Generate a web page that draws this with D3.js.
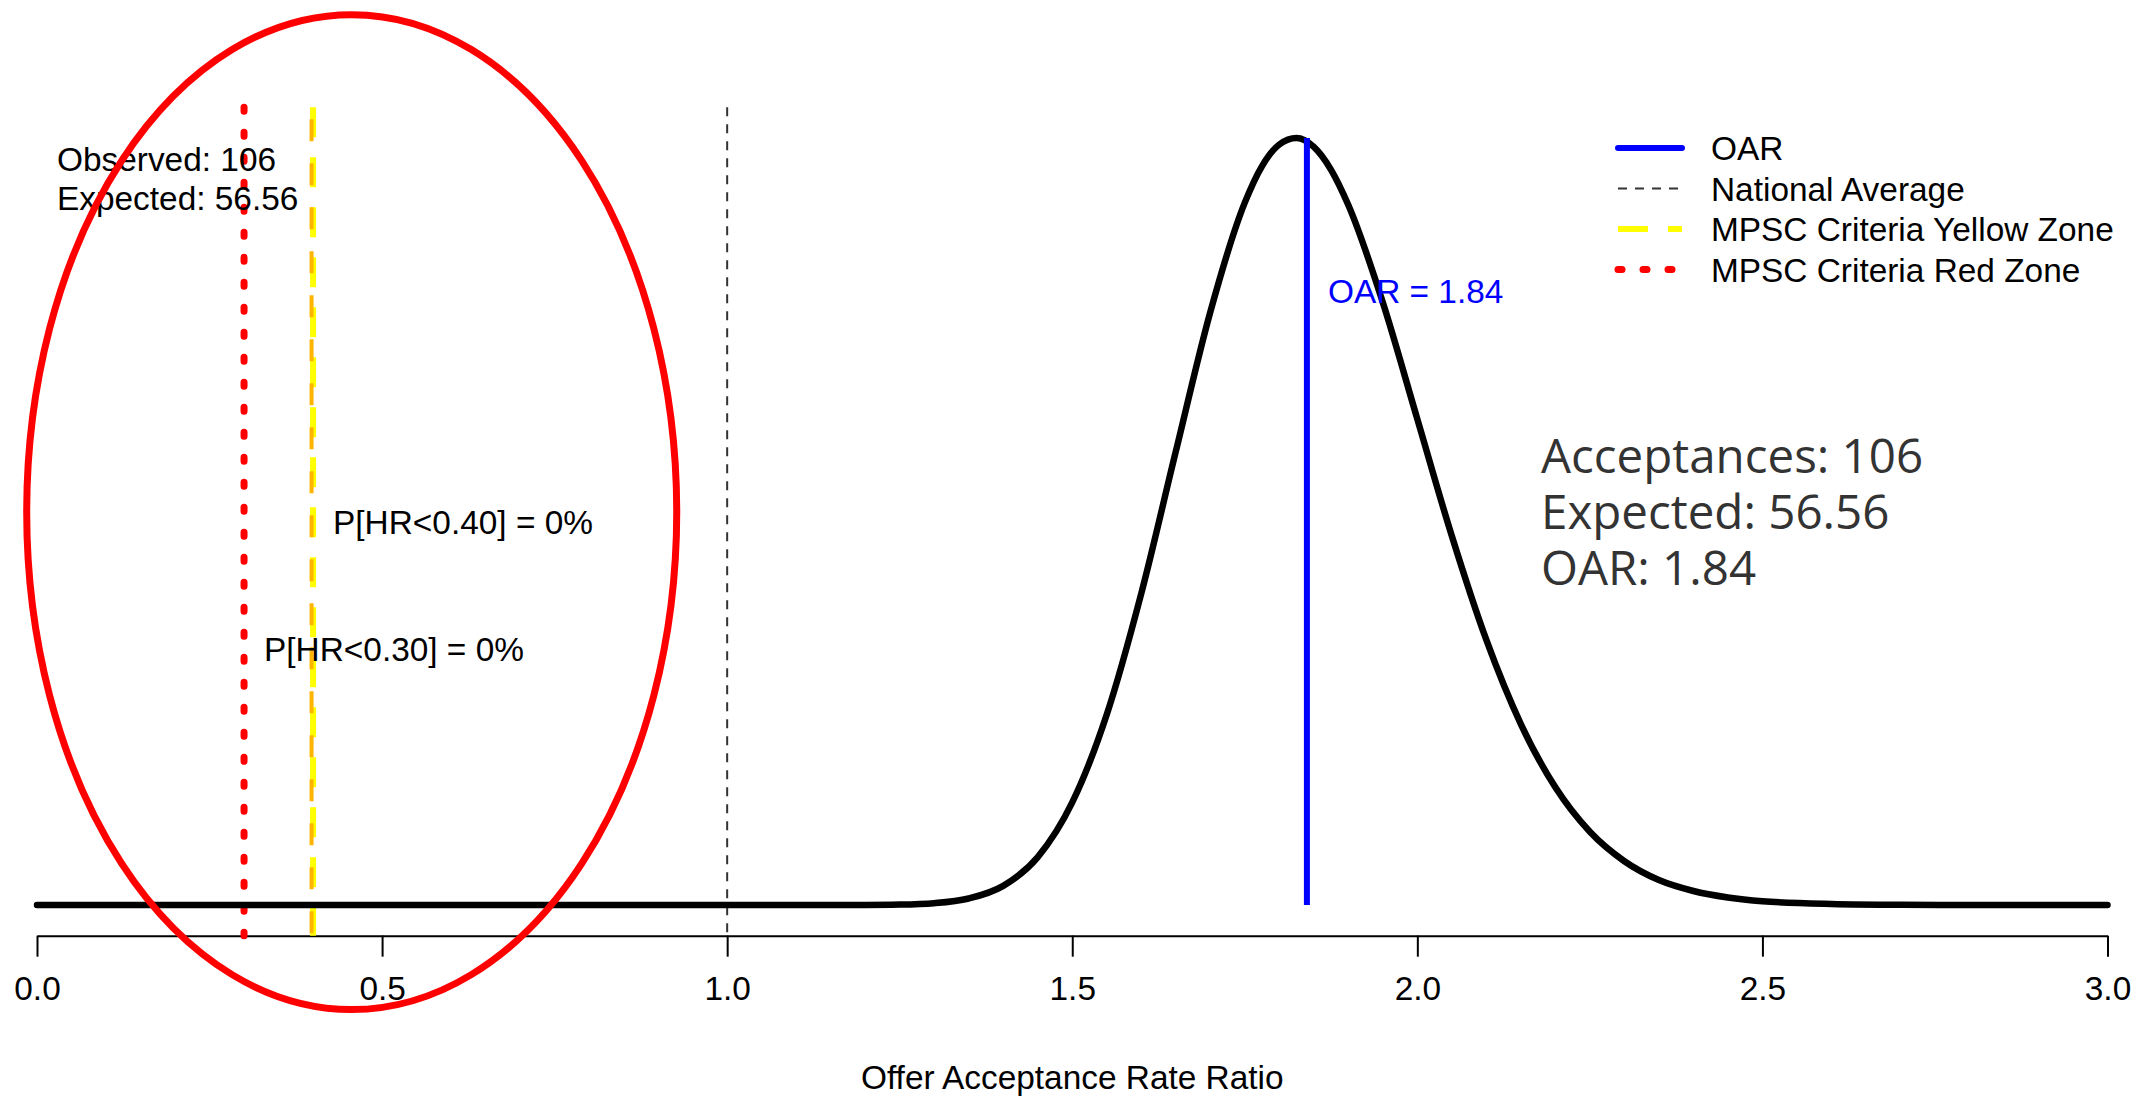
<!DOCTYPE html>
<html>
<head>
<meta charset="utf-8">
<script src="https://cdn.jsdelivr.net/npm/d3@7"></script>
<style>
  html, body { margin: 0; padding: 0; background: #ffffff; }
  svg { display: block; }
</style>
</head>
<body>
<svg id="chart" width="2142" height="1096"></svg>
<script>
// ---------------- data ----------------
const curveX = [0.0, 1.0, 1.1, 1.2, 1.25, 1.3, 1.35, 1.4, 1.45, 1.5, 1.55, 1.6, 1.65, 1.7, 1.75, 1.775, 1.8, 1.825, 1.85, 1.875, 1.9, 1.95, 2.0, 2.05, 2.1, 2.15, 2.2, 2.25, 2.3, 2.35, 2.4, 2.45, 2.5, 2.6, 2.7, 2.8, 3.0];
const curveDensity = [0.0, 0.0, 0.0, 0.0002, 0.0012, 0.0053, 0.019, 0.056, 0.140, 0.300, 0.557, 0.911, 1.326, 1.734, 2.054, 2.161, 2.224, 2.243, 2.217, 2.150, 2.047, 1.762, 1.421, 1.079, 0.775, 0.529, 0.344, 0.214, 0.128, 0.073, 0.041, 0.022, 0.011, 0.003, 0.0006, 0.0001, 0.0];

const xTicks = [0.0, 0.5, 1.0, 1.5, 2.0, 2.5, 3.0];
const xAxisTitle = "Offer Acceptance Rate Ratio";

const oarValue = 1.84;
const refNames = ["National Average", "MPSC Criteria Yellow Zone", "MPSC Criteria Red Zone"];
const refValues = [1.0, 0.40, 0.30];

const legendLabels = ["OAR", "National Average", "MPSC Criteria Yellow Zone", "MPSC Criteria Red Zone"];
const probLabels = ["P[HR<0.40] = 0%", "P[HR<0.30] = 0%"];
const probThresholds = [0.40, 0.30];
const probHeightFraction = [1 / 2, 1 / 3];

const observedLines = ["Observed: 106", "Expected: 56.56"];
const summaryLines = ["Acceptances: 106", "Expected: 56.56", "OAR: 1.84"];
const oarLabel = "OAR = 1.84";

// highlight ellipse bounds in data units [xmin, xmax, densityMin, densityMax]
const ellipseBounds = [-0.020, 0.932, -0.316, 2.614];

// ---------------- styles ----------------
const rFont = "'Liberation Sans', Arial, Helvetica, sans-serif";
const rSize = 33.4;
const styles = {
  "OAR": { stroke: "#0000ff", width: 6, dash: null, cap: "round" },
  "National Average": { stroke: "#333333", width: 2, dash: "9,8", cap: "butt" },
  "MPSC Criteria Yellow Zone": { stroke: "#ffff00", width: 6, dash: "30,20", cap: "butt" },
  "MPSC Criteria Red Zone": { stroke: "#ff0000", width: 7, dash: "4,21", cap: "round" }
};

// ---------------- scales ----------------
const svg = d3.select("#chart");
const x = d3.scaleLinear().domain([0, 3]).range([37, 2107.5]);
const dMax = d3.max(curveDensity);
const y = d3.scaleLinear().domain([0, dMax]).range([905, 138]);
const plotTop = y(dMax * 1.04);
const plotBottom = y(-dMax * 0.04);

// ---------------- axis ----------------
const axis = d3.axisBottom(x)
  .tickValues(xTicks)
  .tickFormat(d3.format(".1f"))
  .tickSize(21)
  .tickSizeOuter(0)
  .tickPadding(20);
const gAxis = svg.append("g")
  .attr("transform", `translate(0,${plotBottom})`)
  .call(axis);
gAxis.select(".domain").attr("stroke", "#000").attr("stroke-width", 2);
gAxis.selectAll(".tick line").attr("stroke", "#000").attr("stroke-width", 2);
gAxis.selectAll(".tick text")
  .attr("font-family", rFont)
  .attr("font-size", rSize)
  .attr("fill", "#000");

svg.append("text")
  .attr("x", (x(0) + x(3)) / 2)
  .attr("y", 1089)
  .attr("text-anchor", "middle")
  .attr("font-family", rFont)
  .attr("font-size", rSize)
  .attr("fill", "#000")
  .text(xAxisTitle);

// ---------------- reference lines ----------------
refNames.forEach((name, i) => {
  const st = styles[name];
  svg.append("line")
    .attr("x1", x(refValues[i])).attr("x2", x(refValues[i]))
    .attr("y1", plotTop).attr("y2", plotBottom)
    .attr("stroke", st.stroke)
    .attr("stroke-width", st.width)
    .attr("stroke-dasharray", st.dash)
    .attr("stroke-linecap", st.cap);
  if (name === "MPSC Criteria Yellow Zone") {
    svg.append("line")
      .attr("x1", x(refValues[i]) - 1.5).attr("x2", x(refValues[i]) - 1.5)
      .attr("y1", plotTop).attr("y2", plotBottom)
      .attr("stroke", "#ffb400")
      .attr("stroke-width", 4)
      .attr("stroke-dasharray", "22,22")
      .attr("stroke-dashoffset", -12);
  }
});

// ---------------- density curve ----------------
const pts = curveX.map((v, i) => [v, curveDensity[i]]);
svg.append("path")
  .datum(pts)
  .attr("fill", "none")
  .attr("stroke", "#000")
  .attr("stroke-width", 6.5)
  .attr("stroke-linecap", "round")
  .attr("stroke-linejoin", "round")
  .attr("d", d3.line().x(d => x(d[0])).y(d => y(d[1])).curve(d3.curveMonotoneX));

// OAR line
svg.append("line")
  .attr("x1", x(oarValue)).attr("x2", x(oarValue))
  .attr("y1", y(0)).attr("y2", y(dMax))
  .attr("stroke", styles["OAR"].stroke)
  .attr("stroke-width", styles["OAR"].width);

svg.append("text")
  .attr("x", x(oarValue) + 21)
  .attr("y", y(dMax * 0.8) + 12)
  .attr("font-family", rFont)
  .attr("font-size", rSize)
  .attr("fill", "#0000ff")
  .text(oarLabel);

// probability labels
probLabels.forEach((t, i) => {
  svg.append("text")
    .attr("x", x(probThresholds[i]) + 20)
    .attr("y", y(dMax * probHeightFraction[i]) + 12)
    .attr("font-family", rFont)
    .attr("font-size", rSize)
    .attr("fill", "#000")
    .text(t);
});

// observed/expected
observedLines.forEach((t, i) => {
  svg.append("text")
    .attr("x", 57)
    .attr("y", 171 + i * 39)
    .attr("font-family", rFont)
    .attr("font-size", rSize)
    .attr("fill", "#000")
    .text(t);
});

// ---------------- legend ----------------
legendLabels.forEach((name, i) => {
  const st = styles[name];
  const cy = 148 + i * 40.5;
  svg.append("line")
    .attr("x1", 1618).attr("x2", 1682)
    .attr("y1", cy).attr("y2", cy)
    .attr("stroke", st.stroke)
    .attr("stroke-width", st.width)
    .attr("stroke-dasharray", st.dash)
    .attr("stroke-linecap", name === "OAR" ? "round" : st.cap);
  svg.append("text")
    .attr("x", 1711)
    .attr("y", cy + 12)
    .attr("font-family", rFont)
    .attr("font-size", rSize)
    .attr("fill", "#000")
    .text(name);
});

// ---------------- summary text ----------------
summaryLines.forEach((t, i) => {
  svg.append("text")
    .attr("x", 1541)
    .attr("y", 473 + i * 56)
    .attr("font-family", "'Open Sans', 'Noto Sans', sans-serif")
    .attr("font-size", 47.5)
    .attr("fill", "#333333")
    .text(t);
});

// ---------------- highlight ellipse ----------------
const ex0 = x(ellipseBounds[0]), ex1 = x(ellipseBounds[1]);
const ey0 = y(ellipseBounds[3]), ey1 = y(ellipseBounds[2]);
svg.append("ellipse")
  .attr("cx", (ex0 + ex1) / 2)
  .attr("cy", (ey0 + ey1) / 2)
  .attr("rx", (ex1 - ex0) / 2 - 3.5)
  .attr("ry", (ey1 - ey0) / 2 - 3.5)
  .attr("fill", "none")
  .attr("stroke", "#ff0000")
  .attr("stroke-width", 7);
</script>
</body>
</html>
